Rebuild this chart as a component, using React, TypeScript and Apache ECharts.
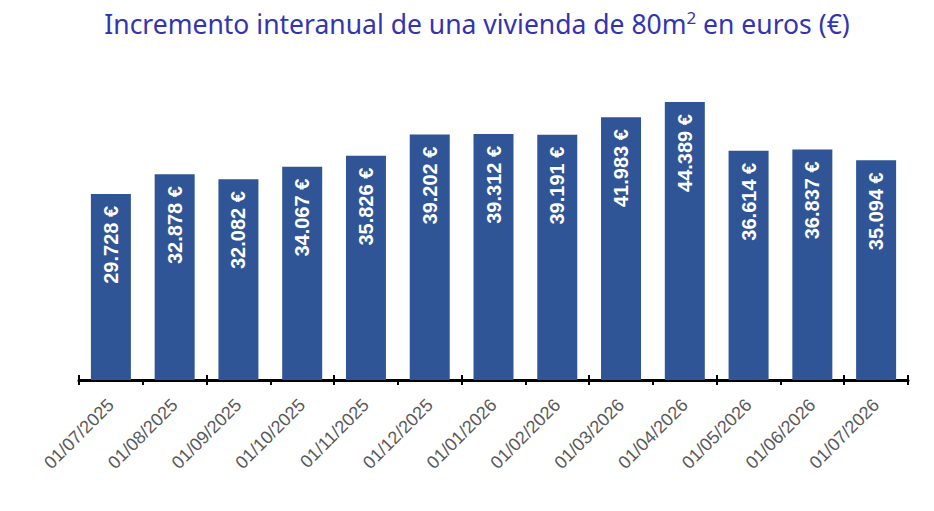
import React, { useEffect, useRef } from "react";
import * as echarts from "echarts";

const categories = [
  "01/07/2025", "01/08/2025", "01/09/2025", "01/10/2025", "01/11/2025", "01/12/2025",
  "01/01/2026", "01/02/2026", "01/03/2026", "01/04/2026", "01/05/2026", "01/06/2026", "01/07/2026",
];
const values = [29728, 32878, 32082, 34067, 35826, 39202, 39312, 39191, 41983, 44389, 36614, 36837, 35094];

const fmt = (v: number) => {
  const s = String(Math.round(v));
  return s.replace(/\B(?=(\d{3})+(?!\d))/g, ".") + " €";
};

export default function App() {
  const ref = useRef<HTMLDivElement>(null);
  useEffect(() => {
    document.body.style.margin = "0";
    const chart = echarts.init(ref.current!, null, { renderer: "svg" });
    chart.setOption({
      animation: false,
      title: {
        text: "{t|Incremento interanual de una vivienda de 80m}{s|2}{t| en euros (€)}",
        left: 472,
        textAlign: "center",
        top: 4,
        textStyle: {
          rich: {
            t: { fontFamily: "Noto Sans", fontSize: 26.5, color: "#3434b2", fontWeight: "normal" },
            s: { fontFamily: "Noto Sans", fontSize: 17, color: "#3434b2", fontWeight: "normal", verticalAlign: "top", padding: [0, 0, 12, 0] },
          },
        },
      },
      grid: { left: 79, right: 26, top: 67, bottom: 131 },
      xAxis: [
        {
          type: "category",
          data: categories,
          axisLine: { lineStyle: { color: "#000", width: 3 } },
          axisTick: { show: true, length: 5, lineStyle: { color: "#000", width: 2 } },
          axisLabel: {
            rotate: 45,
            color: "#595959",
            fontFamily: "Liberation Sans",
            fontSize: 18,
            margin: 22,
            interval: 0,
          },
        },
        {
          type: "category",
          data: categories,
          position: "bottom",
          axisLine: { show: false },
          axisTick: { show: true, inside: true, length: 5, lineStyle: { color: "#000", width: 2 } },
          axisLabel: { show: false },
        },
      ],
      yAxis: {
        type: "value",
        min: 0,
        max: 50000,
        show: false,
        splitLine: { show: false },
      },
      series: [
        {
          type: "bar",
          data: values,
          barWidth: 40,
          itemStyle: { color: "#2f5597" },
          label: {
            show: true,
            position: "insideTop",
            rotate: 90,
            align: "right",
            verticalAlign: "middle",
            distance: 12,
            color: "#fff",
            fontWeight: "bold",
            fontFamily: "Liberation Sans",
            fontSize: 20,
            formatter: (p: any) => fmt(p.value),
          },
        },
      ],
    });
    return () => chart.dispose();
  }, []);
  return <div ref={ref} style={{ width: 934, height: 511 }} />;
}
